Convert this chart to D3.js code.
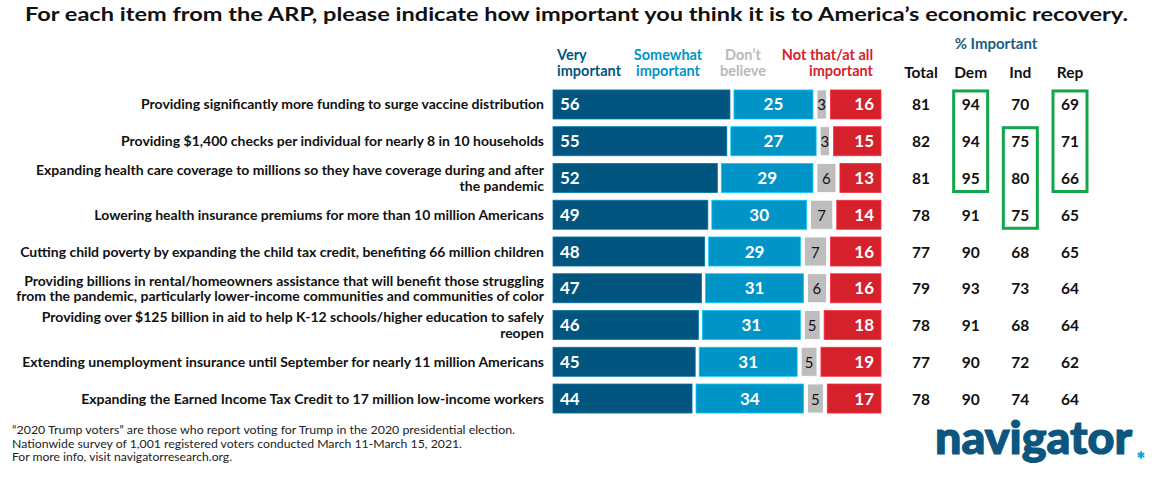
<!DOCTYPE html>
<html>
<head>
<meta charset="utf-8">
<script src="https://cdn.jsdelivr.net/npm/d3@7/dist/d3.min.js"></script>
<style>
  html, body { margin: 0; padding: 0; background: #fff; }
  svg { display: block; }
  text { font-family: Lato, "Open Sans", sans-serif; }
</style>
</head>
<body>
<svg id="chart" width="1159" height="478"></svg>
<script>
const title = "For each item from the ARP, please indicate how important you think it is to America\u2019s economic recovery.";
const items = [
  ["Providing significantly more funding to surge vaccine distribution"],
  ["Providing $1,400 checks per individual for nearly 8 in 10 households"],
  ["Expanding health care coverage to millions so they have coverage during and after", "the pandemic"],
  ["Lowering health insurance premiums for more than 10 million Americans"],
  ["Cutting child poverty by expanding the child tax credit, benefiting 66 million children"],
  ["Providing billions in rental/homeowners assistance that will benefit those struggling", "from the pandemic, particularly lower-income communities and communities of color"],
  ["Providing over $125 billion in aid to help K-12 schools/higher education to safely", "reopen"],
  ["Extending unemployment insurance until September for nearly 11 million Americans"],
  ["Expanding the Earned Income Tax Credit to 17 million low-income workers"]
];
const seriesNames = [["Very", "important"], ["Somewhat", "important"], ["Don\u2019t", "believe"], ["Not that/at all", "important"]];
const veryImportant = [56, 55, 52, 49, 48, 47, 46, 45, 44];
const somewhatImportant = [25, 27, 29, 30, 29, 31, 31, 31, 34];
const dontBelieve = [3, 3, 6, 7, 7, 6, 5, 5, 5];
const notImportant = [16, 15, 13, 14, 16, 16, 18, 19, 17];

const tableHeader = "% Important";
const groups = ["Total", "Dem", "Ind", "Rep"];
const totalImportant = [81, 82, 81, 78, 77, 79, 78, 77, 78];
const demImportant = [94, 94, 95, 91, 90, 93, 91, 90, 90];
const indImportant = [70, 75, 80, 75, 68, 73, 68, 72, 74];
const repImportant = [69, 71, 66, 65, 65, 64, 64, 62, 64];
const highlightGroups = ["Dem", "Ind", "Rep"];
const highlightFrom = [0, 1, 0];
const highlightTo = [2, 3, 2];

const footnotes = [
  "\u201C2020 Trump voters\u201D are those who report voting for Trump in the 2020 presidential election.",
  "Nationwide survey of 1,001 registered voters conducted March 11-March 15, 2021.",
  "For more info, visit navigatorresearch.org."
];
const brand = "navigator";

// ---- drawing ----
const svg = d3.select("#chart");
const colors = ["#02557f", "#0194c7", "#bdbdbd", "#d4212c"];
const labelColors = ["#fff", "#fff", "#111", "#fff"];
const headColors = ["#02557f", "#0194c7", "#b9b9b9", "#d4212c"];
const series = [veryImportant, somewhatImportant, dontBelieve, notImportant];

const barLeft = 553, barRight = 881, gap = 4;
const x = d3.scaleLinear().domain([0, 100]).range([0, barRight - barLeft - 3 * gap]);
const y = d3.scaleBand().domain(d3.range(items.length)).range([86.1, 416.9]).paddingInner(0.21).paddingOuter(0.105);
const colX = d3.scalePoint().domain(groups).range([921, 1070]);

// title
svg.append("text").attr("x", 25).attr("y", 21)
  .attr("font-size", 18).attr("font-weight", 700).attr("fill", "#111")
  .attr("textLength", 1103).attr("lengthAdjust", "spacingAndGlyphs")
  .text(title);

// series headers
const headX = [557, 668, 743, 873];
const headAnchor = ["start", "middle", "middle", "end"];
seriesNames.forEach((lines, i) => {
  const t = svg.append("text").attr("font-size", 14.5).attr("font-weight", 700)
    .attr("fill", headColors[i]).attr("text-anchor", headAnchor[i]);
  lines.forEach((ln, j) => t.append("tspan").attr("x", headX[i]).attr("y", 60 + j * 16).text(ln));
});

// rows
items.forEach((lines, r) => {
  const cy = y(r) + y.bandwidth() / 2;
  const t = svg.append("text").attr("font-size", 14).attr("font-weight", 700)
    .attr("fill", "#111").attr("text-anchor", "end");
  const n = lines.length;
  lines.forEach((ln, j) => t.append("tspan").attr("x", 544)
    .attr("y", cy + 5 + (j - (n - 1) / 2) * 15.5).text(ln));

  let x0 = barLeft;
  series.forEach((s, i) => {
    const w = x(s[r]);
    svg.append("rect").attr("x", x0).attr("y", y(r)).attr("width", w).attr("height", y.bandwidth())
      .attr("fill", colors[i]).attr("stroke", d3.color(colors[i]).brighter(0.9)).attr("stroke-width", 0.8);
    let lx, anchor;
    if (i === 0) { lx = x0 + 7; anchor = "start"; }
    else if (i === 3) { lx = x0 + w - 7; anchor = "end"; }
    else { lx = x0 + w / 2; anchor = "middle"; }
    svg.append("text").attr("x", lx).attr("y", cy + 6).attr("text-anchor", anchor)
      .attr("font-size", i === 2 ? 15 : 17).attr("font-weight", i === 2 ? 400 : 700)
      .attr("fill", labelColors[i]).text(s[r]);
    x0 += w + gap;
  });
});

// table
svg.append("text").attr("x", 996).attr("y", 49).attr("text-anchor", "middle")
  .attr("font-size", 15).attr("font-weight", 700).attr("fill", "#1b5d84").text(tableHeader);
groups.forEach(g => {
  svg.append("text").attr("x", colX(g)).attr("y", 78).attr("text-anchor", "middle")
    .attr("font-size", 15.5).attr("font-weight", 700).attr("fill", "#111").text(g);
});
const tableData = [totalImportant, demImportant, indImportant, repImportant];
groups.forEach((g, gi) => {
  tableData[gi].forEach((v, r) => {
    svg.append("text").attr("x", colX(g)).attr("y", y(r) + y.bandwidth() / 2 + 6)
      .attr("text-anchor", "middle").attr("font-size", 15.5).attr("font-weight", 700)
      .attr("fill", "#111").text(v);
  });
});
highlightGroups.forEach((g, i) => {
  const top = y(highlightFrom[i]) + 1;
  const bot = y(highlightTo[i]) + y.bandwidth() - 1;
  svg.append("rect").attr("x", colX(g) - 17).attr("y", top).attr("width", 34).attr("height", bot - top)
    .attr("fill", "none").attr("stroke", "#12a54b").attr("stroke-width", 3);
});

// footnotes
const footLen = [503, 450, 220];
footnotes.forEach((f, i) => {
  svg.append("text").attr("x", 12).attr("y", 434 + i * 13.5)
    .attr("font-size", 11.5).attr("fill", "#222")
    .attr("font-family", "'Liberation Sans Narrow', 'DejaVu Sans Condensed', sans-serif")
    .attr("textLength", footLen[i]).attr("lengthAdjust", "spacingAndGlyphs")
    .text(f);
});

// brand
svg.append("text").attr("x", 935).attr("y", 454).attr("font-size", 46).attr("font-weight", 900)
  .attr("fill", "#0b557f").attr("stroke", "#0b557f").attr("stroke-width", 1.2)
  .attr("textLength", 197).attr("lengthAdjust", "spacingAndGlyphs").text(brand);
svg.append("path").attr("transform", "translate(1141,455)")
  .attr("d", d3.symbol(d3.symbolAsterisk, 40)())
  .attr("fill", "none").attr("stroke", "#1ea0d8").attr("stroke-width", 2);
</script>
</body>
</html>
